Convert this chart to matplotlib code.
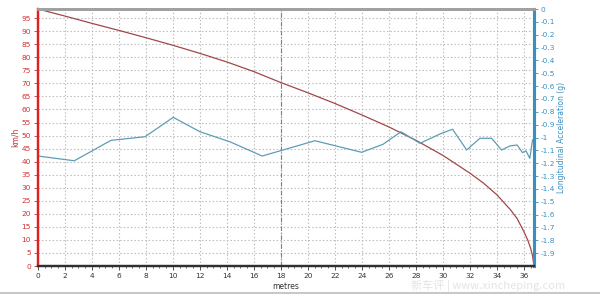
import matplotlib.pyplot as plt
from matplotlib.ticker import MultipleLocator, FuncFormatter

# speed trace (km/h) vs distance (metres)
dist_speed = [0, 2, 4, 6, 8, 10, 12, 14, 16, 18, 20, 22, 24, 26, 28, 30,
              32, 33, 34, 35, 35.5, 36, 36.3, 36.5, 36.65, 36.75]
speed_kmh = [98.5, 95.8, 93.0, 90.3, 87.5, 84.6, 81.5, 78.2, 74.5, 70.3, 66.4, 62.3,
             57.9, 53.3, 48.2, 42.4, 35.6, 31.8, 27.3, 21.6, 18.2, 13.2, 9.8, 6.8, 3.8, 0]

# longitudinal acceleration (g)
dist_acc = [0, 2.69, 5.41, 7.93, 10.02, 12.0, 14.22, 16.61, 20.52, 23.98, 25.56,
            26.89, 28.3, 29.9, 30.72, 31.76, 32.74, 33.61, 34.35, 34.96, 35.5,
            35.9, 36.15, 36.44, 36.64]
acc_g = [-1.144, -1.181, -1.022, -0.994, -0.843, -0.955, -1.033, -1.144, -1.025,
         -1.115, -1.053, -0.955, -1.045, -0.967, -0.936, -1.097, -1.006, -1.006,
         -1.097, -1.066, -1.058, -1.118, -1.103, -1.162, -1.019]

cursor_x = 18

fig = plt.figure(figsize=(6, 2.94), dpi=100)
ax = fig.add_axes([0.0633, 0.0952, 0.8267, 0.8741])
ax2 = ax.twinx()

ax.plot(dist_speed, speed_kmh, color='#a04848', lw=0.9)
ax2.plot(dist_acc, acc_g, color='#5e9db5', lw=0.9)

ax.set_xlim(0, 36.75)
ax.set_ylim(0, 98.5)
ax2.set_ylim(-2, 0)

ax.xaxis.set_major_locator(MultipleLocator(2))
ax.xaxis.set_minor_locator(MultipleLocator(0.5))
ax.yaxis.set_major_locator(MultipleLocator(5))
ax2.set_yticks([-0.1 * i for i in range(20)])
ax2.yaxis.set_major_formatter(FuncFormatter(lambda v, p: '0' if abs(v) < 1e-9 else f'{v:g}'))

ax.grid(True, color='#b8b8b8', ls=(0, (1.2, 2)), lw=0.8)
ax.axvline(cursor_x, color='#8a7a7a', ls=(0, (4, 1.5, 1, 1.5)), lw=0.8)

ax.tick_params(axis='y', colors='#d03030', labelsize=5.3, length=3, width=0.6, pad=2)
ax.tick_params(axis='x', colors='#333333', labelsize=5.3, length=3, width=0.6, pad=2)
ax.tick_params(axis='x', which='minor', length=1.5, width=0.5, colors='#333333')
ax2.tick_params(axis='y', colors='#3a8fc0', labelsize=5.3, length=3, width=0.6, pad=2)

ax.set_ylabel('km/h', color='#c03030', fontsize=5.5, labelpad=1)
ax2.set_ylabel('Longitudinal Acceleration (g)', color='#3a8fc0', fontsize=5.5, labelpad=1)
ax.set_xlabel('metres', fontsize=5.5, color='#333333', labelpad=2)

for a in (ax, ax2):
    a.spines['left'].set_color('#e02020')
    a.spines['left'].set_linewidth(1.6)
    a.spines['right'].set_color('#3a8fc0')
    a.spines['right'].set_linewidth(2.2)
    a.spines['top'].set_color('#a0a0a0')
    a.spines['top'].set_linewidth(2.0)
    a.spines['bottom'].set_color('#303030')
    a.spines['bottom'].set_linewidth(1.6)

# watermark
fig.text(0.685, 0.008, '新车评 | www.xincheping.com', fontsize=8, color='#e4e4e4',
         family=['Noto Sans CJK SC', 'DejaVu Sans'], va='bottom')
fig.add_artist(plt.Line2D([0, 1], [0.004, 0.004], color='#c8c8c8', lw=1.5))

fig.savefig('out.png', dpi=100)
